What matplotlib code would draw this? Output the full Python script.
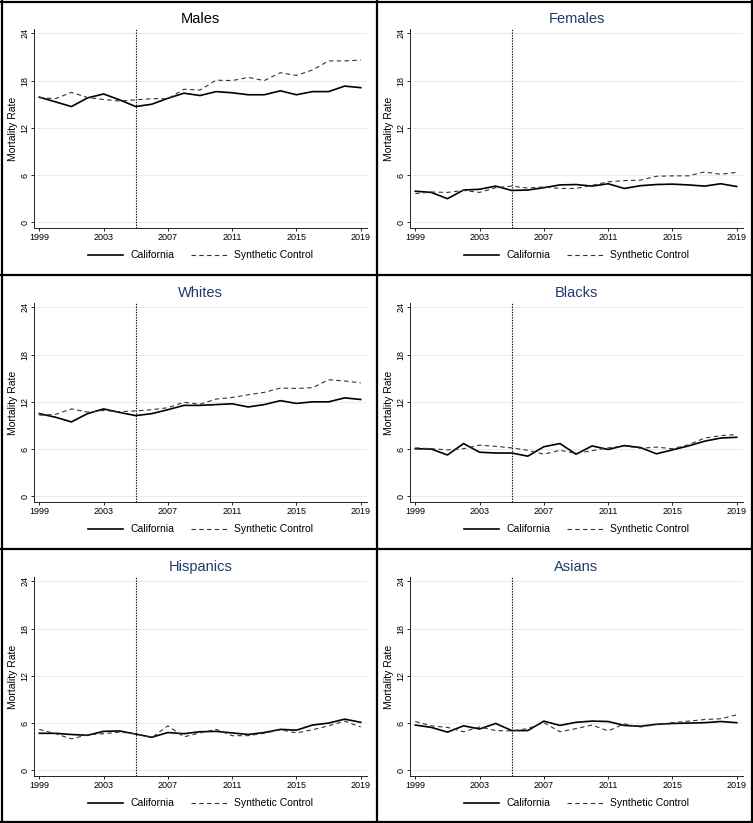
import numpy as np
import matplotlib
matplotlib.use('Agg')
import matplotlib.pyplot as plt
from matplotlib.lines import Line2D

plt.rcParams['font.family'] = ['Liberation Sans', 'DejaVu Sans']

years = list(range(1999, 2020))

titles = ['Males', 'Females', 'Whites', 'Blacks', 'Hispanics', 'Asians']

males_ca = [15.9, 15.3, 14.7, 15.8, 16.3, 15.55, 14.7, 15.0, 15.75, 16.4, 16.1,
            16.6, 16.45, 16.2, 16.2, 16.7, 16.2, 16.6, 16.6, 17.3, 17.1]
males_sc = [15.85, 15.7, 16.5, 15.85, 15.6, 15.4, 15.55, 15.7, 15.7, 16.9, 16.8,
            18.05, 18.0, 18.4, 18.0, 19.0, 18.65, 19.35, 20.5, 20.5, 20.6]

females_ca = [3.95, 3.8, 3.0, 4.1, 4.2, 4.6, 4.05, 4.1, 4.4, 4.75, 4.8,
              4.6, 4.9, 4.3, 4.65, 4.8, 4.85, 4.75, 4.6, 4.9, 4.55]
females_sc = [3.65, 3.85, 3.8, 4.05, 3.8, 4.4, 4.6, 4.35, 4.5, 4.3, 4.3,
              4.7, 5.15, 5.3, 5.35, 5.85, 5.9, 5.9, 6.4, 6.1, 6.35]

whites_ca = [10.5, 10.05, 9.45, 10.5, 11.1, 10.65, 10.25, 10.5, 11.0, 11.55, 11.55,
             11.65, 11.75, 11.35, 11.65, 12.15, 11.8, 12.0, 12.0, 12.5, 12.3]
whites_sc = [10.3, 10.4, 11.1, 10.7, 10.9, 10.75, 10.85, 11.0, 11.25, 11.95, 11.7,
             12.35, 12.55, 12.9, 13.2, 13.75, 13.7, 13.8, 14.8, 14.65, 14.4]

blacks_ca = [6.05, 6.0, 5.25, 6.7, 5.6, 5.5, 5.5, 5.1, 6.3, 6.7, 5.35,
             6.4, 5.95, 6.45, 6.2, 5.4, 5.9, 6.4, 7.0, 7.4, 7.5]
blacks_sc = [6.15, 6.05, 5.9, 6.05, 6.5, 6.35, 6.15, 5.85, 5.35, 5.85, 5.45,
             5.8, 6.15, 6.4, 6.1, 6.25, 6.05, 6.55, 7.4, 7.7, 7.85]

hisp_ca = [4.7, 4.7, 4.55, 4.45, 4.95, 5.0, 4.6, 4.2, 4.8, 4.65, 4.9,
           4.95, 4.75, 4.55, 4.8, 5.2, 5.1, 5.75, 6.0, 6.5, 6.1]
hisp_sc = [5.2, 4.65, 4.0, 4.5, 4.65, 4.85, 4.65, 4.15, 5.65, 4.25, 4.75,
           5.2, 4.4, 4.4, 4.7, 5.15, 4.75, 5.15, 5.65, 6.25, 5.5]

asian_ca = [5.75, 5.45, 4.85, 5.65, 5.25, 5.95, 5.05, 5.05, 6.25, 5.7, 6.1,
            6.25, 6.2, 5.7, 5.6, 5.85, 5.95, 6.0, 6.05, 6.2, 6.05]
asian_sc = [6.2, 5.65, 5.45, 4.9, 5.5, 5.05, 5.0, 5.3, 6.05, 4.9, 5.3,
            5.75, 5.0, 5.9, 5.5, 5.8, 6.05, 6.25, 6.45, 6.55, 7.05]

california = [males_ca, females_ca, whites_ca, blacks_ca, hisp_ca, asian_ca]
synthetic = [males_sc, females_sc, whites_sc, blacks_sc, hisp_sc, asian_sc]

W, H = 753, 823
fig = plt.figure(figsize=(W / 100, H / 100), dpi=100)
fig.patch.set_facecolor('white')

col_x = [0, 376]
row_y = [0, 274, 548]
navy = '#1f3a6f'
grid_col = '#e4eff1'

for i in range(6):
    r, c = divmod(i, 2)
    px, py = col_x[c], row_y[r]
    # axes box in pixels within panel
    left, right, top, bottom = 34, 367, 29, 228
    ax = fig.add_axes([(px + left) / W, 1 - (py + bottom) / H,
                       (right - left) / W, (bottom - top) / H])
    ax.plot(years, california[i], color='black', lw=1.2, label='California')
    ax.plot(years, synthetic[i], color='#333333', lw=0.8, dashes=(4, 3),
            label='Synthetic Control')
    ax.axvline(2005, color='black', lw=0.8, ls=(0, (1.2, 1.2)))
    ax.set_xlim(1998.67, 2019.39)
    ax.set_ylim(-0.72, 24.55)
    ax.set_xticks([1999, 2003, 2007, 2011, 2015, 2019])
    ax.set_yticks([0, 6, 12, 18, 24])
    ax.grid(axis='y', color=grid_col, lw=0.8)
    ax.set_axisbelow(True)
    for s in ['top', 'right']:
        ax.spines[s].set_visible(False)
    for s in ['left', 'bottom']:
        ax.spines[s].set_linewidth(0.7)
        ax.spines[s].set_color('#222222')
    ax.tick_params(labelsize=6.5, length=2.5, width=0.6, pad=1)
    plt.setp(ax.get_yticklabels(), rotation=90, va='center')
    ax.set_ylabel('Mortality Rate', fontsize=7.5)
    ax.yaxis.set_label_coords(-0.047, 0.5)
    ax.set_title(titles[i], fontsize=10.5, pad=4,
                 color='black' if i == 0 else navy)
    ax.legend(loc='upper center', bbox_to_anchor=(0.5, -0.065), ncol=2,
              frameon=False, fontsize=7.5, handlelength=3.4,
              handletextpad=0.7, columnspacing=1.6)

# panel borders
for x in [1.5, 376.5, 751.5]:
    fig.add_artist(Line2D([x / W, x / W], [0, 1], color='black', lw=1.6))
for y in [1.5, 274.5, 548.5, 821.5]:
    fig.add_artist(Line2D([0, 1], [1 - y / H, 1 - y / H], color='black', lw=1.6))

fig.savefig('out.png', dpi=100)
